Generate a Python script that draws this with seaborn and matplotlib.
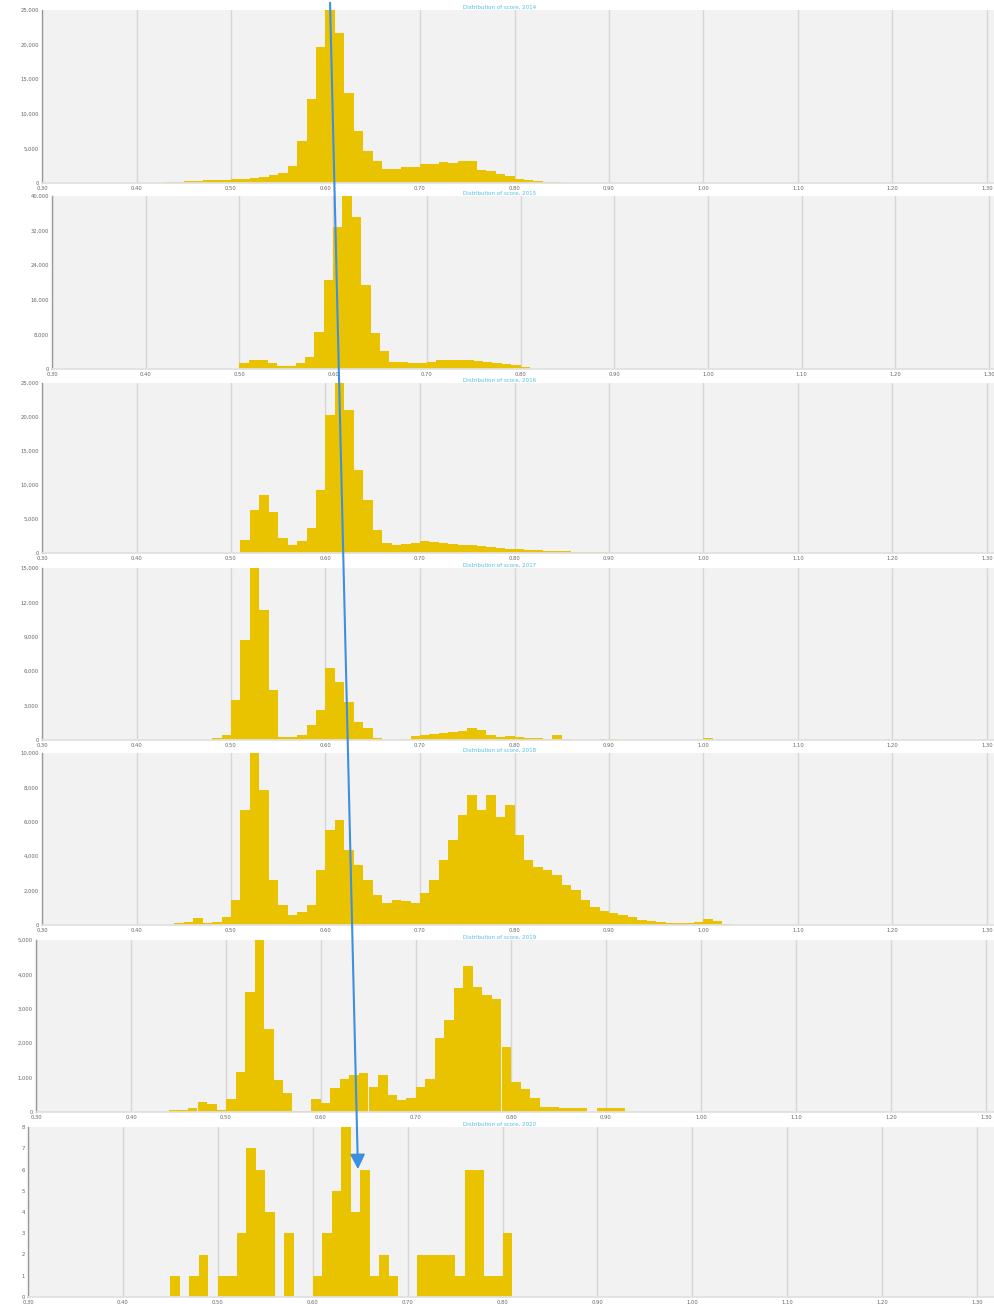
import numpy as np
import pandas as pd
import matplotlib
matplotlib.use("Agg")
import matplotlib.pyplot as plt
from matplotlib.patches import FancyArrowPatch
import seaborn as sns

sns.set_theme(style="white")
plt.rcParams['font.family'] = ['DejaVu Sans']

# ---------------- data (bin width 0.01) ----------------
x_ticks = [0.3, 0.4, 0.5, 0.6, 0.7, 0.8, 0.9, 1.0, 1.1, 1.2, 1.3]
x_tick_labels = ["0.30", "0.40", "0.50", "0.60", "0.70", "0.80", "0.90", "1.00", "1.10", "1.20", "1.30"]

titles = ["Distribution of score, 2014", "Distribution of score, 2015", "Distribution of score, 2016",
          "Distribution of score, 2017", "Distribution of score, 2018", "Distribution of score, 2019",
          "Distribution of score, 2020"]

p1_start = 0.43
p1_counts = [140, 150, 290, 300, 430, 440, 460, 580, 600, 720, 870, 1160, 1450, 2460, 6070, 12140,
             19650, 25000, 21680, 13010, 7510, 4620, 3180, 2020, 2050, 2310, 2340, 2750, 2720, 3030,
             2900, 3180, 3150, 1880, 1730, 1300, 1010, 580, 430, 290, 150, 120, 70, 40, 20]
p1_yticks = [0, 5000, 10000, 15000, 20000, 25000]

p2_start = 0.50
p2_counts = [1390, 2080, 2080, 1390, 690, 690, 1390, 2770, 8550, 20560, 32800, 40000, 35100, 19400,
             8320, 4160, 1620, 1620, 1390, 1390, 1620, 2080, 2080, 2080, 2080, 1850, 1620, 1390,
             1160, 920, 460]
p2_yticks = [0, 8000, 16000, 24000, 32000, 40000]

p3_start = 0.51
p3_counts = [1910, 6320, 8530, 6030, 2210, 1180, 1760, 3680, 9260, 20290, 25000, 21030, 12210, 7790,
             3380, 1470, 1180, 1320, 1470, 1760, 1620, 1470, 1320, 1180, 1180, 1030, 880, 740, 590,
             590, 440, 440, 290, 290, 290, 150, 150, 150, 150, 70]
p3_yticks = [0, 5000, 10000, 15000, 20000, 25000]

p4_start = 0.48
p4_counts = [170, 440, 3490, 8720, 15000, 11340, 4360, 260, 260, 440, 1310, 2620, 6280, 5060, 3310,
             1570, 1050, 170, 0, 0, 90, 350, 440, 520, 610, 700, 780, 1050, 870, 440, 260, 350, 260,
             170, 170, 90, 440, 90, 0, 0, 0, 90, 90, 0, 0, 0, 0, 0, 0, 0, 0, 0, 170]
p4_yticks = [0, 3000, 6000, 9000, 12000, 15000]

p5_start = 0.44
p5_counts = [120, 170, 410, 120, 170, 460, 1450, 6690, 10000, 7850, 2620, 1160, 580, 760, 1160, 3200,
             5520, 6100, 4360, 3490, 2620, 1740, 1280, 1450, 1400, 1280, 1860, 2620, 3780, 4940, 6400,
             7560, 6690, 7560, 6280, 6980, 5230, 3780, 3370, 3200, 2910, 2330, 2030, 1450, 1050, 810,
             700, 580, 470, 290, 230, 170, 120, 120, 120, 170, 350, 230, 60]
p5_yticks = [0, 2000, 4000, 6000, 8000, 10000]

p6_start = 0.44
p6_counts = [60, 60, 120, 290, 230, 60, 380, 1160, 3490, 5000, 2410, 930, 550, 30, 30, 380, 260, 700,
             960, 1080, 1130, 730, 1080, 490, 350, 410, 730, 960, 2150, 2670, 3600, 4240, 3630, 3400,
             3280, 1890, 870, 670, 410, 150, 150, 120, 120, 120, 0, 120, 120, 120]
p6_yticks = [0, 1000, 2000, 3000, 4000, 5000]

p7_start = 0.45
p7_counts = [1, 0, 1, 2, 0, 1, 1, 3, 7, 6, 4, 0, 3, 0, 0, 1, 3, 5, 8, 4, 6, 1, 2, 1, 0, 0, 2, 2, 2,
             2, 1, 6, 6, 1, 1, 3]
p7_yticks = [0, 1, 2, 3, 4, 5, 6, 7, 8]

panels = [
    (p1_start, p1_counts, p1_yticks),
    (p2_start, p2_counts, p2_yticks),
    (p3_start, p3_counts, p3_yticks),
    (p4_start, p4_counts, p4_yticks),
    (p5_start, p5_counts, p5_yticks),
    (p6_start, p6_counts, p6_yticks),
    (p7_start, p7_counts, p7_yticks),
]

# ---------------- layout (pixels) ----------------
W, H = 995, 1305
tops = [10, 196, 383, 568, 753, 940, 1127]
bottoms = [183, 369, 553, 740, 925, 1112, 1297]
lefts = [42, 52, 42, 42, 42, 36, 28]
px_per_unit = [945, 937, 945, 945, 945, 950, 949]   # pixels per 1.0 on x
gold = "#e9c300"

fig = plt.figure(figsize=(W / 100, H / 100), dpi=100)
fig.patch.set_facecolor("white")

for i, (start, counts, yt) in enumerate(panels):
    L, T, B = lefts[i], tops[i], bottoms[i]
    ax = fig.add_axes([L / W, 1 - B / H, (W - L) / W, (B - T) / H])
    ax.set_facecolor("#f2f2f2")
    n = len(counts)
    edges = [round(start + 0.01 * j, 4) for j in range(n + 1)]
    df = pd.DataFrame({"value": start + 0.01 * (np.arange(n) + 0.5),
                       "count": np.asarray(counts, dtype=float)})
    sns.histplot(data=df, x="value", weights="count", bins=edges, ax=ax, color=gold,
                 alpha=1, linewidth=0, edgecolor=gold, zorder=2)
    ax.set_xlim(0.3, 0.3 + (W - L) / px_per_unit[i])
    ax.set_ylim(0, yt[-1])
    ax.set_xticks(x_ticks)
    ax.set_xticklabels(x_tick_labels)
    ax.set_xticks(np.arange(0.325, 1.31, 0.025), minor=True)
    ax.set_yticks(yt)
    ax.set_yticklabels([f"{v:,}" for v in yt])
    ax.grid(axis="x", which="major", color="#d6d6d6", linewidth=1.0, zorder=0)
    ax.grid(axis="y", visible=False)
    ax.set_axisbelow(True)
    ax.set_xlabel("")
    ax.set_ylabel("")
    for s in ["top", "right"]:
        ax.spines[s].set_visible(False)
    ax.spines["left"].set_color("#9a9a9a")
    ax.spines["left"].set_linewidth(1.0)
    ax.spines["bottom"].set_color("#e0e0e0")
    ax.tick_params(axis="both", which="major", labelsize=3.8, colors="#8a8a8a",
                   length=1.5, width=0.5, pad=0.8)
    ax.tick_params(axis="x", which="minor", length=1.2, width=0.4, colors="#bbbbbb")
    for lab in ax.get_xticklabels() + ax.get_yticklabels():
        lab.set_color("#666666")
    fig.text(500 / W, 1 - (T - 0.5) / H, titles[i], ha="center", va="bottom",
             fontsize=4.0, color="#4cbfe6")

arrow = FancyArrowPatch(posA=(330 / W, 1.0), posB=(358 / W, 1 - 1172 / H),
                        transform=fig.transFigure, arrowstyle="-|>",
                        mutation_scale=22, color="#3f8fe0", linewidth=1.5, zorder=10)
fig.add_artist(arrow)

fig.savefig("out.png", dpi=100, facecolor="white")
